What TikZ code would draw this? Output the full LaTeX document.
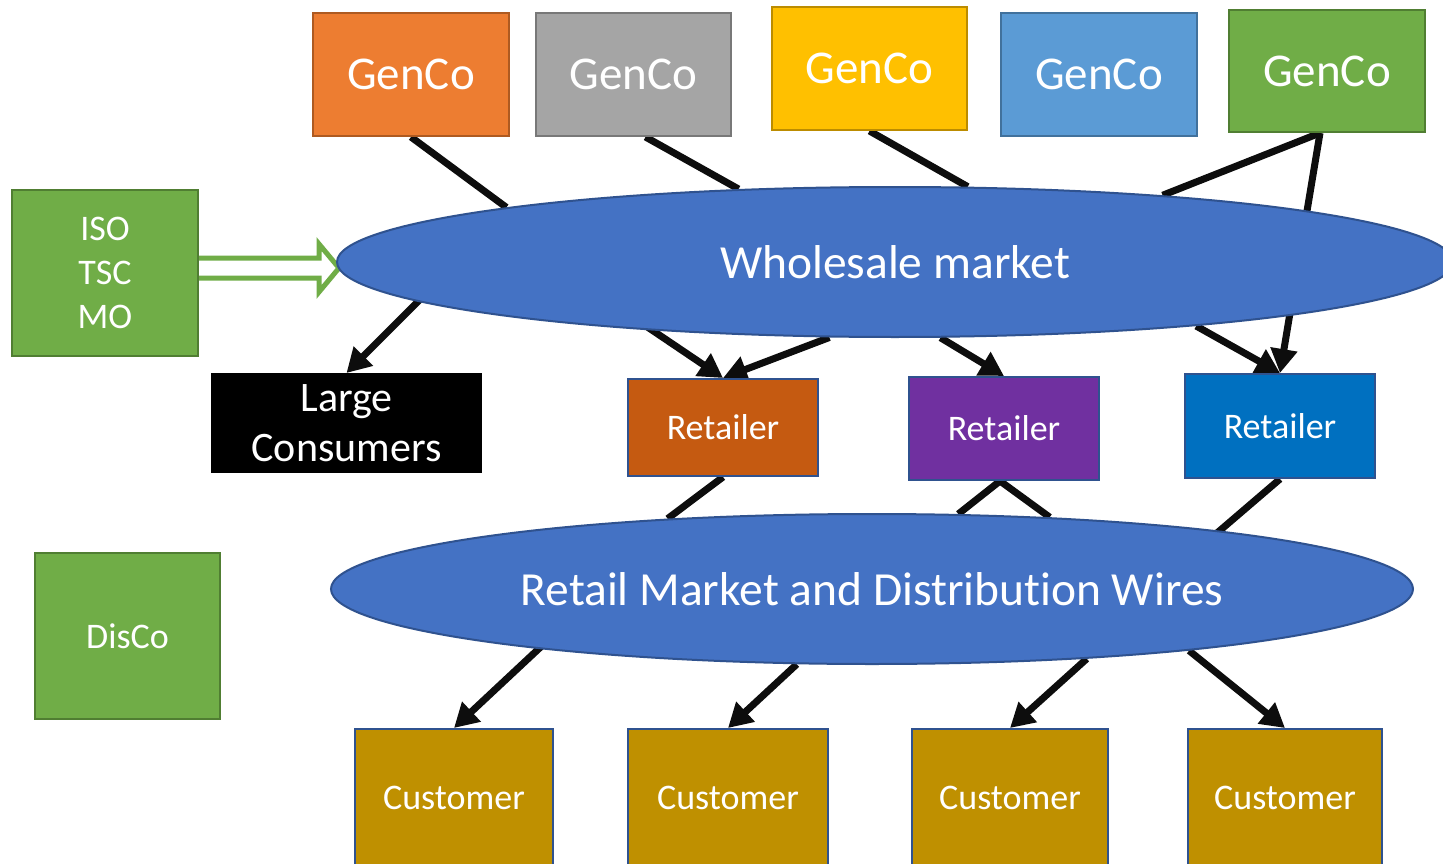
\documentclass[tikz,border=0pt]{standalone}
\usepackage{fontspec}
\setmainfont{Carlito}[Ligatures={NoCommon}]
\usetikzlibrary{shapes.geometric,arrows.meta,calc}
\pgfdeclarelayer{paper}
\pgfdeclarelayer{background}
\pgfsetlayers{paper,background,main}
\definecolor{cOrange}{HTML}{ED7D31}\definecolor{bOrange}{HTML}{AE5A21}
\definecolor{cGray}{HTML}{A5A5A5}\definecolor{bGray}{HTML}{787878}
\definecolor{cYellow}{HTML}{FFC000}\definecolor{bYellow}{HTML}{BC8C00}
\definecolor{cBlue}{HTML}{5B9BD5}\definecolor{bBlue}{HTML}{41719C}
\definecolor{cGreen}{HTML}{70AD47}\definecolor{bGreen}{HTML}{507E32}
\definecolor{cRet1}{HTML}{C55A11}\definecolor{cRet2}{HTML}{7030A0}\definecolor{cRet3}{HTML}{0070C0}
\definecolor{cCust}{HTML}{BF9000}\definecolor{bDark}{HTML}{2F528F}
\definecolor{cMkt}{HTML}{4472C4}\definecolor{cLine}{HTML}{0D0D0D}
\begin{document}
\begin{tikzpicture}[x=1pt,y=-1pt,
  box/.style={rectangle, draw, line width=2pt, inner sep=0pt, text=white, align=center},
  gen/.style={box, minimum width=195pt, minimum height=123pt, font=\fontsize{47}{56}\selectfont},
  small/.style={box, font=\fontsize{36}{44}\selectfont},
  retail/.style={small, draw=bDark, minimum width=190pt},
  cust/.style={small, draw=bDark, fill=cCust, minimum height=137pt},
  mkt/.style={ellipse, draw=bDark, line width=2pt, fill=cMkt, inner sep=0pt, minimum height=150pt, text=white, font=\fontsize{47.5}{56}\selectfont},
  conn/.style={line width=7pt, draw=cLine},
  arr/.style={conn, -{Triangle[length=24pt,width=26pt]}}]
\clip (0,0) rectangle (1443,864);
\begin{pgfonlayer}{paper}
\fill[white] (0,0) rectangle (1443,864);
\end{pgfonlayer}
% generators
\node[gen, fill=cOrange, draw=bOrange, minimum width=196pt] (g1) at (411,74.5) {GenCo};
\node[gen, fill=cGray, draw=bGray] (g2) at (633.5,74.5) {GenCo};
\node[gen, fill=cYellow, draw=bYellow] (g3) at (869.5,68.5) {GenCo};
\node[gen, fill=cBlue, draw=bBlue, minimum width=196pt] (g4) at (1099,74.5) {GenCo};
\node[gen, fill=cGreen, draw=bGreen, minimum width=196pt, minimum height=122pt] (g5) at (1327,71) {GenCo};
% side boxes
\node[small, fill=cGreen, draw=bGreen, minimum width=186pt, minimum height=166pt] (iso) at (105,273) {ISO\\TSC\\MO};
\node[small, fill=cGreen, draw=bGreen, minimum width=185pt, minimum height=166pt] (disco) at (127.5,636) {DisCo};
\node[box, fill=black, draw=black, minimum width=269pt, minimum height=98pt, font=\fontsize{42}{50}\selectfont] (lc) at (346.5,423) {Large\\Consumers};
% markets
\node[mkt, minimum width=1116pt] (wm) at (895,262) {Wholesale market};
\node[mkt, minimum width=1082pt] (rm) at (872,589) {Retail Market and Distribution Wires};
% retailers
\node[retail, fill=cRet1, minimum height=97pt] (r1) at (723,427.5) {Retailer};
\node[retail, fill=cRet2, minimum height=103pt] (r2) at (1004,428.5) {Retailer};
\node[retail, fill=cRet3, minimum height=104pt] (r3) at (1280,426) {Retailer};
% customers
\node[cust, minimum width=198pt] (c1) at (454,797.5) {Customer};
\node[cust, minimum width=200pt] (c2) at (728,797.5) {Customer};
\node[cust, minimum width=196pt] (c3) at (1010,797.5) {Customer};
\node[cust, minimum width=194pt] (c4) at (1285,797.5) {Customer};
\coordinate (g2s) at ([xshift=12pt]g2.south);
\coordinate (g5s) at ([xshift=-7pt]g5.south);
\coordinate (r2s) at ([xshift=-4pt]r2.south);
\coordinate (isoa) at ($(iso.east)+(0,-5)$);
\coordinate (wlc) at ($(lc.north)+(80,-80)$);
\coordinate (wr1) at ($(r1.north)+(-80,-54)$);
\coordinate (rc1) at ($(c1.north)+(92,-86)$);
\coordinate (r3m) at ($(r3.south)+(-70,60)$);
\begin{pgfonlayer}{background}
  \draw[conn] (g1.south) -- (wm.172.1);
  \draw[conn] (g2s) -- (wm.155.8);
  \draw[conn] (g3.south) -- (wm.46);
  \draw[conn] (g5s) -- (wm.14.2);
  \draw[arr] (g5s) -- (r3.north);
  \draw[arr] (wlc) -- (lc.north);
  \draw[arr] (wr1) -- (r1.north);
  \draw[arr] (wm.229.5) -- (r1.north);
  \draw[arr] (wm.301) -- (r2.north);
  \draw[arr] (wm.348.1) -- (r3.north);
  \draw[conn] (r1.south) -- (rm.161.1);
  \draw[conn] (r2s) -- (rm.41.7);
  \draw[conn] (r2s) -- (rm.22.4);
  \draw[conn] (r3.south) -- (r3m);
  \draw[arr] (rc1) -- (c1.north);
  \draw[arr] (rm.225.8) -- (c2.north);
  \draw[arr] (rm.342.4) -- (c3.north);
  \draw[arr] (rm.349.2) -- (c4.north);
  \draw[line width=5pt, draw=cGreen, fill=white, line join=miter]
    ($(isoa)+(0,-10)$) -- ++(120,0) -- ++(0,-14) -- ++(20,24) -- ++(-20,24) -- ++(0,-14) -- ($(isoa)+(0,10)$);
\end{pgfonlayer}
\end{tikzpicture}
\end{document}
